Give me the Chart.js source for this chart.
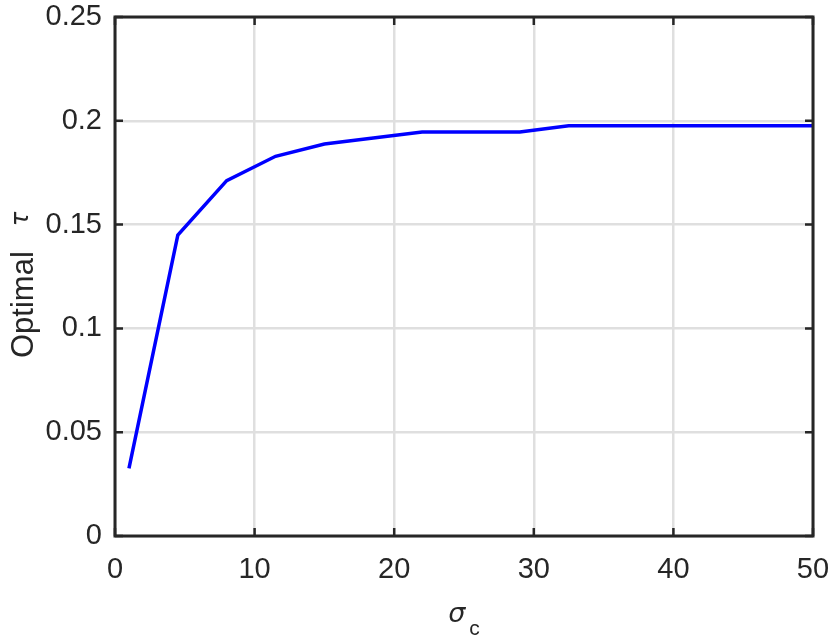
<!DOCTYPE html>
<html>
<head>
<meta charset="utf-8">
<script src="https://cdn.jsdelivr.net/npm/chart.js@4"></script>
<style>
  html, body { margin: 0; padding: 0; background: #ffffff; }
  #wrap { width: 830px; height: 643px; }
</style>
</head>
<body>
<div id="wrap"><canvas id="c" width="830" height="643"></canvas></div>
<script>
// ---- data ----
const sigmaC = [1, 4.5, 8, 11.5, 15, 18.5, 22, 25.5, 29, 32.5, 36, 39.5, 43, 46.5, 50];
const optimalTau = [0.0326, 0.1449, 0.1712, 0.1829, 0.1888, 0.1917, 0.1946, 0.1946, 0.1946, 0.1976, 0.1976, 0.1976, 0.1976, 0.1976, 0.1976];
const xTicks = [0, 10, 20, 30, 40, 50];
const yTicks = [0, 0.05, 0.1, 0.15, 0.2, 0.25];
const xTitleMain = 'σ';
const xTitleSub = 'c';
const yTitleMain = 'Optimal';
const yTitleSym = 'τ';

const AXIS_COLOR = '#262626';
const GRID_COLOR = '#dfdfdf';
const TICK_FONT = { family: "'Liberation Sans', Arial, Helvetica, sans-serif", size: 29 };
const GREEK_FAMILY = "'DejaVu Sans', sans-serif";

const points = sigmaC.map((x, i) => ({ x: x, y: optimalTau[i] }));

function zeroPad(scale) {
  scale.paddingLeft = 0; scale.paddingRight = 0;
  scale.paddingTop = 0; scale.paddingBottom = 0;
}

const framePlugin = {
  id: 'matlabFrame',
  afterDatasetsDraw(chart) {
    const { ctx, chartArea: a, scales } = chart;
    ctx.save();
    ctx.strokeStyle = AXIS_COLOR;
    ctx.lineWidth = 3;
    ctx.lineCap = 'square';
    ctx.strokeRect(a.left, a.top, a.right - a.left, a.bottom - a.top);
    const tl = 8;
    ctx.lineWidth = 2.5;
    ctx.lineCap = 'butt';
    ctx.beginPath();
    xTicks.forEach(v => {
      const px = scales.x.getPixelForValue(v);
      ctx.moveTo(px, a.bottom); ctx.lineTo(px, a.bottom - tl);
      ctx.moveTo(px, a.top); ctx.lineTo(px, a.top + tl);
    });
    yTicks.forEach(v => {
      const py = scales.y.getPixelForValue(v);
      ctx.moveTo(a.left, py); ctx.lineTo(a.left + tl, py);
      ctx.moveTo(a.right, py); ctx.lineTo(a.right - tl, py);
    });
    ctx.stroke();
    ctx.restore();
  },
  afterDraw(chart) {
    const { ctx, chartArea: a } = chart;
    ctx.save();
    ctx.fillStyle = AXIS_COLOR;
    // x title: sigma with subscript c
    const cx = (a.left + a.right) / 2;
    const fS = "oblique 27px " + GREEK_FAMILY;
    const fC = "21px 'Liberation Sans', Arial, sans-serif";
    ctx.font = fS;
    const wS = ctx.measureText(xTitleMain).width;
    ctx.font = fC;
    const wC = ctx.measureText(xTitleSub).width;
    const gap = 4;
    const x0 = cx - (wS + gap + wC) / 2;
    ctx.textBaseline = 'alphabetic';
    ctx.textAlign = 'left';
    ctx.font = fS;
    ctx.fillText(xTitleMain, x0, 622);
    ctx.font = fC;
    ctx.fillText(xTitleSub, x0 + wS + gap, 635);

    // y title: "Optimal τ" rotated
    ctx.translate(33, 358);
    ctx.rotate(-Math.PI / 2);
    ctx.font = "31px 'Liberation Sans', Arial, sans-serif";
    ctx.fillText(yTitleMain, 0, 0);
    const wO = ctx.measureText(yTitleMain).width;
    ctx.font = "oblique 24px " + GREEK_FAMILY;
    ctx.fillText(yTitleSym, wO + 25, -5);
    ctx.restore();
  }
};

new Chart(document.getElementById('c'), {
  type: 'line',
  data: {
    datasets: [{
      data: points,
      borderColor: '#0000ff',
      backgroundColor: '#0000ff',
      borderWidth: 3.5,
      pointRadius: 0,
      tension: 0,
      fill: false
    }]
  },
  options: {
    responsive: false,
    animation: false,
    devicePixelRatio: 1,
    layout: { padding: { top: 17, right: 17, left: 0, bottom: 0 } },
    plugins: { legend: { display: false }, tooltip: { enabled: false } },
    scales: {
      x: {
        type: 'linear',
        min: 0, max: 50,
        afterFit(scale) { scale.height = 107; zeroPad(scale); },
        afterBuildTicks(scale) { scale.ticks = xTicks.map(v => ({ value: v })); },
        border: { display: false },
        grid: { color: GRID_COLOR, lineWidth: 2.5, drawTicks: false },
        ticks: {
          color: AXIS_COLOR, font: TICK_FONT, padding: 17, maxRotation: 0,
          callback: v => String(v)
        }
      },
      y: {
        type: 'linear',
        min: 0, max: 0.25,
        afterFit(scale) { scale.width = 115; zeroPad(scale); },
        afterBuildTicks(scale) { scale.ticks = yTicks.map(v => ({ value: v })); },
        border: { display: false },
        grid: { color: GRID_COLOR, lineWidth: 2.5, drawTicks: false },
        ticks: {
          color: AXIS_COLOR, font: TICK_FONT, padding: 13,
          callback: v => String(Math.round(v * 100) / 100)
        }
      }
    }
  },
  plugins: [framePlugin]
});
</script>
</body>
</html>
